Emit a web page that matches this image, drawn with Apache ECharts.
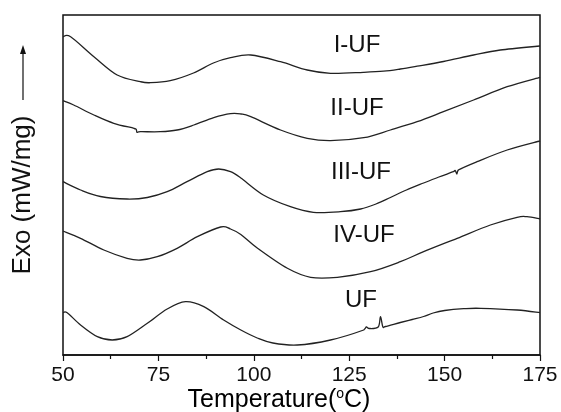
<!DOCTYPE html>
<html>
<head>
<meta charset="utf-8">
<script src="https://cdn.jsdelivr.net/npm/echarts@6/dist/echarts.min.js"></script>
<style>html,body{margin:0;padding:0;background:#fff}#c{width:561px;height:412px}</style>
</head>
<body>
<div id="c"></div>
<script>
// Temperature (°C) and relative heat-flow offsets (arbitrary units, stacked traces)
var seriesNames = ['I-UF', 'II-UF', 'III-UF', 'IV-UF', 'UF'];
var xTicks = [50, 75, 100, 125, 150, 175];

var I_UF = [[50,318.3],[52,318.3],[58.1,298.3],[64.2,280],[70.3,273.3],[72.9,272.3],[78.1,274.3],[84.2,282],[89.4,292],[93.9,297.3],[99.2,300],[107,293.3],[114,285],[120.1,281.7],[128.7,282.7],[134,283.8],[138.4,286],[142.8,288.8],[149.7,293.5],[157.6,300],[164.6,305],[175,309]];
var II_UF = [[50,254.3],[52.8,250],[58.1,240],[63.3,231.7],[68.6,226.7],[69.2,225.5],[69.4,222.7],[70.3,223.3],[75.5,223.3],[79.9,225],[84.3,230],[89.5,237.3],[93.9,241.3],[96.6,241],[99.2,238.3],[107,225],[114,216.7],[120.1,214.3],[128.8,217.3],[135.8,225],[142.8,233.3],[149.7,243.3],[157.6,255],[166.4,268.3],[175,277.7]];
var III_UF = [[50,173.3],[54.6,165],[59.8,158.5],[66.8,156],[72.1,157.5],[77.3,163.3],[82.5,173.3],[87.8,183.3],[90.8,186],[93.9,183.3],[96.6,177],[102.5,160],[109.6,148.3],[115.6,142.7],[122.7,143.3],[128,146],[132,151],[135.8,157.5],[140,165],[144.5,172],[148.5,178],[152.3,183.3],[152.8,184.5],[153.2,181],[153.6,185],[158.5,193.3],[166.4,205],[175,214]];
var IV_UF = [[50,124],[54.6,116.7],[60.7,105],[66.8,96.7],[70.3,95],[74.7,98.3],[79.9,106.7],[85.2,118.3],[91.3,128],[93.9,126],[96.6,120.5],[100.9,107],[108.8,86.7],[114.9,77.7],[121.9,77.7],[130.6,83.3],[138.4,93.3],[144.5,103.3],[153.3,116.7],[162,130],[169,137.7],[171.6,138.3],[175,136]];
var UF = [[50,42.3],[51.1,42.3],[54.6,30],[59,18.3],[62.9,15],[66.8,18.3],[72.1,31.7],[77.3,46],[82.1,53.3],[86.9,48.3],[92.1,35],[96.6,25],[100.9,17],[105,12],[111.4,10],[120.1,15],[128.8,25],[129.5,28],[130.2,26.5],[132.6,28],[133.2,38.3],[133.8,28.3],[134.5,28.5],[138.4,32.5],[141.5,35.5],[144.5,38.5],[147,42],[150,44.5],[155,46.3],[159.4,46.7],[169,45],[175,42.3]];

var chart = echarts.init(document.getElementById('c'), null, {renderer: 'canvas'});
var FONT = 'Arial, "Liberation Sans", Helvetica, sans-serif';
var dataList = [I_UF, II_UF, III_UF, IV_UF, UF];
var labelPos = [[357,45],[357,108],[361,172],[364,235],[361,300]];

function curvePath(pts) {
  var d = 'M' + pts[0][0] + ' ' + pts[0][1];
  for (var i = 0; i < pts.length - 1; i++) {
    var p0 = pts[Math.max(0, i - 1)], p1 = pts[i], p2 = pts[i + 1], p3 = pts[Math.min(pts.length - 1, i + 2)];
    var c1x = p1[0] + (p2[0] - p0[0]) / 6, c1y = p1[1] + (p2[1] - p0[1]) / 6;
    var c2x = p2[0] - (p3[0] - p1[0]) / 6, c2y = p2[1] - (p3[1] - p1[1]) / 6;
    c1x = Math.min(Math.max(c1x, p1[0]), p2[0]);
    c2x = Math.min(Math.max(c2x, p1[0]), p2[0]);
    d += ' C' + c1x + ' ' + c1y + ' ' + c2x + ' ' + c2y + ' ' + p2[0] + ' ' + p2[1];
  }
  return d;
}

var series = dataList.map(function (arr, i) {
  return {
    name: seriesNames[i], type: 'custom', silent: true,
    data: arr,
    encode: {x: 0, y: 1},
    renderItem: function (params, api) {
      if (params.dataIndex !== 0) return null;
      var pts = arr.map(function (p) { return api.coord(p); });
      return {type: 'path', shape: {pathData: curvePath(pts)},
        style: {stroke: '#222', lineWidth: 1.3, fill: 'none'}};
    }
  };
});

var graphics = seriesNames.map(function (n, i) {
  return {type: 'text', x: labelPos[i][0], y: labelPos[i][1],
    style: {text: n, font: '24px ' + FONT, fill: '#111', align: 'center', verticalAlign: 'middle'}};
});
graphics.push({type: 'text', x: 279, y: 400,
  style: {text: '{a|Temperature(}{s|o}{a|C)}', align: 'center', verticalAlign: 'middle',
    rich: {a: {fontSize: 25, fontFamily: FONT, color: '#111'},
           s: {fontSize: 14, fontFamily: FONT, color: '#111', verticalAlign: 'top', padding: [0,0,10,0]}}}});
graphics.push({type: 'text', x: 23, y: 195, rotation: Math.PI / 2,
  style: {text: 'Exo (mW/mg)', font: '26px ' + FONT, fill: '#111', align: 'center', verticalAlign: 'middle'}});
graphics.push({type: 'line', shape: {x1: 23, y1: 100, x2: 23, y2: 52}, style: {stroke: '#111', lineWidth: 1.2}});
graphics.push({type: 'polygon', shape: {points: [[23, 45], [20, 54], [26, 54]]}, style: {fill: '#111'}});

chart.setOption({
  animation: false,
  backgroundColor: '#fff',
  grid: {left: 63, right: 21, top: 15, bottom: 57, show: true, borderColor: '#111', borderWidth: 1.5, backgroundColor: 'transparent'},
  xAxis: {
    type: 'value', min: xTicks[0], max: xTicks[xTicks.length - 1], interval: 25,
    axisLine: {lineStyle: {color: '#111', width: 1.5}},
    axisTick: {show: true, inside: false, length: 6, lineStyle: {color: '#111', width: 1.2}},
    minorTick: {show: true, splitNumber: 2, length: 4, lineStyle: {color: '#111', width: 1.2}},
    axisLabel: {fontSize: 21, fontFamily: FONT, color: '#111', margin: 10},
    splitLine: {show: false}
  },
  yAxis: {
    type: 'value', min: 0, max: 340, show: true,
    axisLine: {show: false}, axisTick: {show: false}, axisLabel: {show: false}, splitLine: {show: false}
  },
  series: series,
  graphic: graphics
});
</script>
</body>
</html>
